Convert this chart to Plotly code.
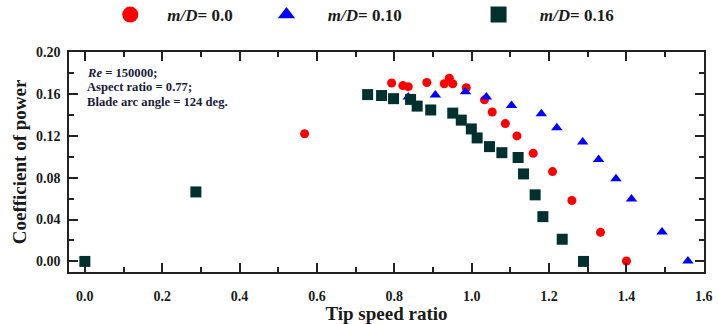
import plotly.graph_objects as go

# m/D = 0.0 (red circles)
tsr_0 = [0.568, 0.793, 0.822, 0.836, 0.884, 0.929, 0.942, 0.951, 0.986, 1.033, 1.053,
         1.087, 1.117, 1.159, 1.209, 1.259, 1.333, 1.400]
cp_0 = [0.122, 0.1705, 0.168, 0.167, 0.1709, 0.1697, 0.1751, 0.1697, 0.1659, 0.1544,
        0.1428, 0.1317, 0.1199, 0.1033, 0.0858, 0.0582, 0.0278, 0.0004]

# m/D = 0.10 (blue triangles)
tsr_10 = [0.836, 0.906, 0.984, 1.038, 1.103, 1.180, 1.220, 1.287, 1.328, 1.373, 1.413,
          1.492, 1.559]
cp_10 = [0.157, 0.159, 0.162, 0.157, 0.149, 0.141, 0.1276, 0.114, 0.0974, 0.079,
         0.0596, 0.028, 0.0004]

# m/D = 0.16 (dark squares)
tsr_16 = [0.0, 0.287, 0.731, 0.767, 0.798, 0.842, 0.859, 0.894, 0.951, 0.973, 0.999,
          1.014, 1.046, 1.078, 1.120, 1.134, 1.164, 1.184, 1.234, 1.289]
cp_16 = [0.0, 0.0664, 0.1594, 0.1585, 0.1555, 0.1548, 0.1484, 0.1447, 0.1417, 0.135,
         0.1266, 0.118, 0.1097, 0.1039, 0.0993, 0.0836, 0.0636, 0.0428, 0.0212, 0.0]

names = ["<i>m/D</i>= 0.0", "<i>m/D</i>= 0.10", "<i>m/D</i>= 0.16"]
colors = ["#ff0000", "#0000ff", "#01302f"]
symbols = ["circle", "triangle-up", "square"]

info_lines = ["<i>Re</i> = 150000;", "Aspect ratio = 0.77;", "Blade arc angle = 124 deg."]

serif = "Liberation Serif"
W, H = 718, 324
ML, MR, MT, MB = 69, 14, 43, 52

fig = go.Figure()
data = [(tsr_0, cp_0, 9), (tsr_10, cp_10, 10), (tsr_16, cp_16, 11)]
for (xs, ys, sz), c, s in zip(data, colors, symbols):
    fig.add_trace(go.Scatter(x=xs, y=ys, mode="markers", showlegend=False,
                             marker=dict(color=c, symbol=s, size=sz, line=dict(width=0))))

# legend entries (separate legends for precise placement)
leg_x = [0.065, 0.311, 0.645]
leg_sizes = [16, 15, 16]
pads = ["\u00a0\u00a0\u00a0\u00a0", "\u00a0\u00a0\u00a0\u00a0\u00a0", "\u00a0\u00a0\u00a0\u00a0\u00a0"]
for i, (n, c, s) in enumerate(zip(names, colors, symbols)):
    lname = "legend" if i == 0 else f"legend{i+1}"
    fig.add_trace(go.Scatter(x=[None], y=[None], mode="markers",
                             name=pads[i] + n,
                             legend=lname,
                             marker=dict(color=c, symbol=s, size=leg_sizes[i], line=dict(width=0))))

legend_common = dict(yref="container", yanchor="middle", y=1 - 15 / H, xanchor="left",
                     bgcolor="rgba(0,0,0,0)",
                     font=dict(family=serif, size=17, color="#1a1a1a", weight="bold"),
                     borderwidth=0)
fig.update_layout(
    legend=dict(x=leg_x[0], **legend_common),
    legend2=dict(x=leg_x[1], **legend_common),
    legend3=dict(x=leg_x[2], **legend_common),
)

axis_common = dict(showline=True, linecolor="#222222", linewidth=1.6, mirror="ticks",
                   ticks="inside", ticklen=9, tickwidth=1.5, tickcolor="#222222",
                   showgrid=False, zeroline=False,
                   tickfont=dict(family=serif, size=14, color="#1a1a1a", weight="bold"))

fig.update_xaxes(range=[-0.041, 1.6005], dtick=0.2, tick0=0, tickformat=".1f",
                 minor=dict(dtick=0.1, ticks="inside", ticklen=5, tickwidth=1.5, tickcolor="#222222"),
                 title=dict(text="Tip speed ratio", standoff=4,
                            font=dict(family=serif, size=19, color="#1a1a1a", weight="bold")),
                 ticklabelstandoff=10, automargin=False,
                 **axis_common)
fig.update_yaxes(range=[-0.0101, 0.2002], dtick=0.04, tick0=0, tickformat=".2f",
                 minor=dict(dtick=0.02, ticks="inside", ticklen=5, tickwidth=1.5, tickcolor="#222222"),
                 title=dict(text="Coefficient of power", standoff=4,
                            font=dict(family=serif, size=19, color="#1a1a1a", weight="bold")),
                 ticklabelstandoff=4, automargin=True,
                 **axis_common)

plot_h = H - MT - MB
for k, line in enumerate(info_lines):
    ypx = 65 + 15 * k
    fig.add_annotation(xref="paper", yref="paper", x=(85 - ML) / (W - ML - MR),
                       y=(H - MB - ypx) / plot_h, xanchor="left", yanchor="middle",
                       align="left", showarrow=False, text=line,
                       font=dict(family=serif, size=12.6, color="#1a1a3a", weight="bold"))

fig.update_layout(width=W, height=H, margin=dict(l=ML, r=MR, t=MT, b=MB),
                  plot_bgcolor="white", paper_bgcolor="white")

fig.write_html("out.html", config={"displayModeBar": False},
               post_script="document.body.style.margin='0px';document.body.style.overflow='hidden';")
